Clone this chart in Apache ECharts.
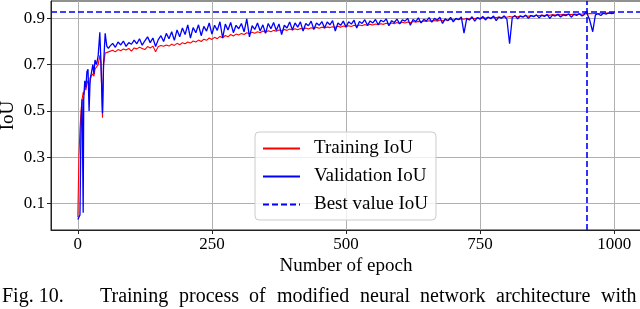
<!DOCTYPE html>
<html><head><meta charset="utf-8">
<script src="https://cdn.jsdelivr.net/npm/echarts@6/dist/echarts.min.js"></script>
<style>html,body{margin:0;padding:0;background:#fff}#c{width:640px;height:309px}</style>
</head><body><div id="c"></div>
<script>
const earlyEpochs = [0,2,4,6,8,10,11,13,15,17,19,21,23,25,28,30,32,35,38,41,43,46,48,51,54,57];
const earlyTrain = [0.04,0.30,0.42,0.50,0.55,0.58,0.57,0.60,0.59,0.62,0.63,0.60,0.63,0.65,0.66,0.65,0.68,0.69,0.70,0.74,0.71,0.47,0.70,0.75,0.75,0.755];
const earlyVal = [0.03,0.035,0.05,0.45,0.55,0.06,0.55,0.63,0.60,0.67,0.68,0.50,0.64,0.66,0.70,0.66,0.72,0.70,0.74,0.84,0.72,0.49,0.70,0.835,0.78,0.77];

const lateEpochs = [
60,65,70,75,80,85,90,95,100,105,
110,115,120,125,130,135,140,145,150,155,
160,165,170,175,180,185,190,195,200,205,
210,215,220,225,230,235,240,245,250,255,
260,265,270,275,280,285,290,295,300,305,
310,315,320,325,330,335,340,345,350,355,
360,365,370,375,380,385,390,395,400,405,
410,415,420,425,430,435,440,445,450,455,
460,465,470,475,480,485,490,495,500,505,
510,515,520,525,530,535,540,545,550,555,
560,565,570,575,580,585,590,595,600,605,
610,615,620,625,630,635,640,645,650,655,
660,665,670,675,680,685,690,695,700,705,
710,715,720,725,730,735,740,745,750,755,
760,765,770,775,780,785,790,795,800,805,
810,815,820,825,830,835,840,845,850,855,
860,865,870,875,880,885,890,895,900,905,
910,915,920,925,930,935,940,944,948,954,
960,965,970,975,980,985,990,995,1000];

const lateTrain = [
0.757,0.762,0.755,0.765,0.760,0.768,0.763,0.770,0.758,0.772,
0.768,0.775,0.770,0.765,0.778,0.772,0.780,0.756,0.778,0.783,
0.779,0.785,0.780,0.788,0.783,0.792,0.786,0.795,0.790,0.798,
0.793,0.802,0.798,0.806,0.800,0.810,0.805,0.815,0.809,0.818,
0.812,0.822,0.816,0.826,0.820,0.830,0.824,0.832,0.828,0.835,
0.830,0.838,0.833,0.840,0.836,0.842,0.838,0.845,0.840,0.846,
0.842,0.848,0.844,0.850,0.846,0.852,0.848,0.854,0.850,0.855,
0.851,0.856,0.853,0.858,0.854,0.859,0.856,0.861,0.857,0.862,
0.858,0.863,0.860,0.864,0.861,0.866,0.862,0.867,0.864,0.868,
0.865,0.870,0.866,0.871,0.868,0.873,0.869,0.874,0.871,0.876,
0.872,0.877,0.874,0.879,0.875,0.880,0.877,0.882,0.878,0.883,
0.880,0.884,0.881,0.886,0.883,0.887,0.884,0.889,0.886,0.890,
0.887,0.891,0.888,0.893,0.890,0.894,0.891,0.896,0.893,0.897,
0.894,0.898,0.896,0.900,0.897,0.901,0.898,0.902,0.900,0.903,
0.901,0.904,0.902,0.905,0.903,0.906,0.904,0.907,0.905,0.908,
0.906,0.909,0.907,0.910,0.908,0.911,0.909,0.912,0.910,0.913,
0.911,0.914,0.912,0.915,0.913,0.916,0.914,0.917,0.915,0.917,
0.916,0.918,0.916,0.919,0.917,0.920,0.918,0.921,0.919,0.921,
0.920,0.922,0.920,0.923,0.921,0.923,0.922,0.924,0.923];

const lateVal = [
0.780,0.792,0.775,0.798,0.785,0.802,0.779,0.795,0.788,0.806,
0.790,0.812,0.784,0.803,0.820,0.795,0.815,0.778,0.808,0.825,
0.800,0.835,0.812,0.842,0.805,0.850,0.820,0.858,0.830,0.872,
0.815,0.860,0.838,0.872,0.825,0.865,0.845,0.880,0.832,0.870,
0.848,0.885,0.815,0.875,0.850,0.882,0.838,0.870,0.855,0.878,
0.842,0.898,0.820,0.868,0.852,0.880,0.845,0.872,0.835,0.878,
0.855,0.882,0.848,0.876,0.830,0.870,0.858,0.884,0.850,0.880,
0.862,0.885,0.845,0.878,0.868,0.888,0.852,0.880,0.870,0.886,
0.858,0.884,0.872,0.890,0.845,0.880,0.870,0.888,0.862,0.885,
0.875,0.892,0.858,0.886,0.878,0.894,0.870,0.889,0.880,0.895,
0.872,0.892,0.885,0.898,0.868,0.890,0.882,0.897,0.876,0.893,
0.888,0.900,0.870,0.895,0.886,0.902,0.880,0.896,0.889,0.903,
0.884,0.900,0.892,0.905,0.878,0.898,0.890,0.904,0.885,0.900,
0.895,0.906,0.836,0.899,0.893,0.907,0.888,0.903,0.896,0.908,
0.893,0.906,0.898,0.910,0.890,0.905,0.900,0.911,0.896,0.790,
0.904,0.912,0.898,0.910,0.905,0.914,0.900,0.912,0.907,0.915,
0.902,0.913,0.908,0.916,0.900,0.914,0.910,0.917,0.906,0.915,
0.912,0.919,0.905,0.917,0.913,0.920,0.910,0.916,0.930,0.895,
0.842,0.915,0.920,0.912,0.922,0.918,0.924,0.920,0.923];

const xTicks = [0,250,500,750,1000];
const yTicks = [0.1,0.3,0.5,0.7,0.9];
const bestIoU = 0.93;
const bestEpoch = 948;
const captionLabel = 'Fig. 10.';
const captionWords = ['Training','process','of','modified','neural','network','architecture','with'];

const epochs = earlyEpochs.concat(lateEpochs);
const train = earlyTrain.concat(lateTrain);
const val = earlyVal.concat(lateVal);
const trainData = epochs.map((e, i) => [e, train[i]]);
const valData = epochs.map((e, i) => [e, val[i]]);

const font = 'Liberation Serif';
const capFont = '20px "Liberation Serif"';
// justify caption words between left and right edges of the text column
const mctx = document.createElement('canvas').getContext('2d');
mctx.font = capFont;
const wordW = captionWords.map(w => mctx.measureText(w).width);
const capStart = 100, capEnd = 637;
const gap = (capEnd - capStart - wordW.reduce((a, b) => a + b, 0)) / (captionWords.length - 1);
let cx = capStart;
const graphics = [{type: 'text', left: 2, top: 287, style: {text: captionLabel, font: capFont, fill: '#000'}}];
captionWords.forEach((w, i) => {
  graphics.push({type: 'text', left: Math.round(cx), top: 287, style: {text: w, font: capFont, fill: '#000'}});
  cx += wordW[i] + gap;
});

const chart = echarts.init(document.getElementById('c'), null, {renderer: 'canvas'});
chart.setOption({
  animation: false,
  backgroundColor: '#fff',
  grid: {left: 51, right: -1, top: 1, bottom: 79, outerBoundsMode: 'none', containLabel: false,
    show: true, borderColor: '#222', borderWidth: 1},
  xAxis: {
    type: 'value', min: -50, max: 1050,
    name: 'Number of epoch', nameLocation: 'middle', nameGap: 27, nameMoveOverlap: false,
    nameTextStyle: {fontFamily: font, fontSize: 19, color: '#000'},
    axisLine: {show: true, onZero: false, lineStyle: {color: '#222', width: 1}},
    axisTick: {show: true, length: 4, inside: false, customValues: xTicks, lineStyle: {color: '#222'}},
    axisLabel: {customValues: xTicks, fontFamily: font, fontSize: 17, color: '#000', margin: 6,
      formatter: v => String(v)},
    splitLine: {show: true, lineStyle: {color: '#b0b0b0', width: 1}}
  },
  yAxis: {
    type: 'value', min: -0.015, max: 0.975,
    name: 'IoU', nameLocation: 'middle', nameGap: 33, nameRotate: 90, nameMoveOverlap: false,
    nameTextStyle: {fontFamily: font, fontSize: 19, color: '#000'},
    axisLine: {show: true, onZero: false, lineStyle: {color: '#222', width: 1}},
    axisTick: {show: true, length: 4, inside: false, customValues: yTicks, lineStyle: {color: '#222'}},
    axisLabel: {customValues: yTicks, fontFamily: font, fontSize: 17, color: '#000', margin: 6,
      formatter: v => v.toFixed(1)},
    splitLine: {show: true, lineStyle: {color: '#b0b0b0', width: 1}}
  },
  legend: {
    orient: 'vertical', left: 255, top: 132,
    itemWidth: 37, itemHeight: 12, itemGap: 9,
    padding: [7, 8, 6, 7],
    itemStyle: {opacity: 0},
    backgroundColor: 'rgba(255,255,255,0.8)', borderColor: '#cccccc', borderWidth: 1, borderRadius: 4,
    textStyle: {fontFamily: font, fontSize: 19, color: '#000', padding: [0, 0, 0, 9]},
    data: ['Training IoU', 'Validation IoU', 'Best value IoU']
  },
  series: [
    {name: 'Training IoU', type: 'line', data: trainData, symbol: 'none', showSymbol: false,
      lineStyle: {color: '#ff0000', width: 1.1}, itemStyle: {color: '#ff0000'}, z: 2},
    {name: 'Validation IoU', type: 'line', data: valData, symbol: 'none', showSymbol: false,
      lineStyle: {color: '#0000ff', width: 1.3}, itemStyle: {color: '#0000ff'}, z: 3},
    {name: 'Best value IoU', type: 'line', data: [], symbol: 'none', showSymbol: false,
      lineStyle: {color: '#0000ff', width: 1.5, type: [6, 3]}, itemStyle: {color: '#0000ff'}, z: 4,
      markLine: {silent: true, symbol: 'none', label: {show: false},
        lineStyle: {color: '#0000ff', width: 1.6, type: [6, 3]},
        data: [{yAxis: bestIoU}, {xAxis: bestEpoch}]}}
  ],
  graphic: graphics
});
</script>
</body></html>
